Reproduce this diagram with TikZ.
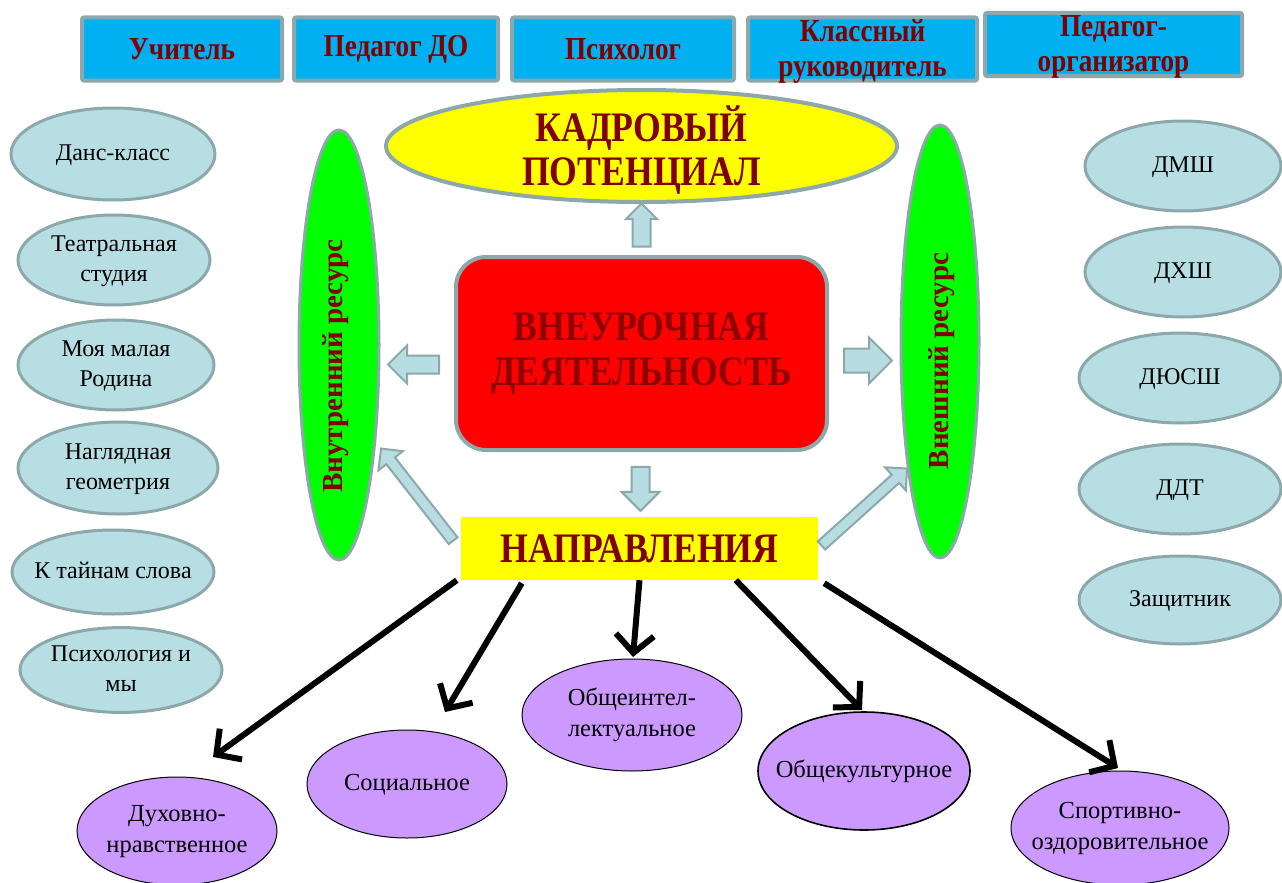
\documentclass[tikz,border=0pt]{standalone}
\usepackage{fontspec}
\setmainfont{Liberation Serif}
\newfontfamily\headfont{Liberation Serif}[FakeStretch=0.85]
\usetikzlibrary{shapes.geometric,shapes.arrows,arrows.meta,calc}
\definecolor{topblue}{HTML}{00B0F0}
\definecolor{frame}{HTML}{8CA8AA}
\definecolor{dred}{HTML}{800000}
\definecolor{vdred}{HTML}{8E0000}
\definecolor{lblue}{HTML}{B7DEE2}
\definecolor{lgreen}{HTML}{00FF00}
\definecolor{lilac}{HTML}{CC99FF}
\definecolor{yel}{HTML}{FFFF00}
\definecolor{abox}{HTML}{B7DDE3}
\newcommand\zw[1]{\makebox[0pt]{\begin{tabular}{@{}c@{}}#1\end{tabular}}}
\begin{document}
\begin{tikzpicture}[x=1pt,y=-1pt,
  topbox/.style={draw=frame, line width=4pt, fill=topblue, minimum height=63pt, inner sep=0pt, rounded corners=2pt},
  toptext/.style={text=dred, font=\headfont\bfseries\fontsize{32}{35}\selectfont, align=center, inner sep=0pt},
  club/.style={ellipse, draw=frame, line width=3pt, fill=lblue, inner sep=0pt, font=\fontsize{24}{30}\selectfont},
  dirn/.style={ellipse, draw=black, line width=1pt, fill=lilac, inner sep=0pt, font=\fontsize{24.5}{31}\selectfont},
  res/.style={ellipse, draw=frame, line width=3pt, fill=lgreen, inner sep=0pt},
  restext/.style={rotate=90, text=dred, font=\bfseries\fontsize{29}{30}\selectfont, inner sep=0pt},
  barrow/.style={single arrow, draw=frame, line width=2pt, fill=abox, inner xsep=0pt},
  link/.style={line width=6pt, -{Straight Barb[length=18pt,width=38pt,line width=6pt]}},
]
\useasboundingbox (0,0) rectangle (1282,883);

% top row
\node[topbox, toptext, minimum width=200pt] (t1) at (182,49) {Учитель};
\node[topbox, toptext, minimum width=204pt] (t2) at (396,49) {Педагог ДО};
\node[topbox, toptext, minimum width=222pt] (t3) at (623,49) {Психолог};
\node[topbox, minimum width=229pt] (t4) at (862.5,49) {};
\node[toptext] (t4t) at ($(t4)+(0,2)$) {Классный\\руководитель};
\node[topbox, minimum width=257pt] (t5) at (1113.5,44.5) {};
\node[toptext] (t5t) at ($(t5)+(0,2)$) {Педагог-\\организатор};

% central
\node[ellipse, draw=frame, line width=4pt, fill=yel, minimum width=511pt, minimum height=112pt, inner sep=0pt] (kp) at (641.5,146) {};
\node[text=dred, font=\headfont\bfseries\fontsize{42}{44}\selectfont, align=center, inner sep=0pt] (kpt) at ($(kp)+(0,4)$) {КАДРОВЫЙ\\ПОТЕНЦИАЛ};

\node[res, minimum width=80pt, minimum height=430pt] (ir) at (339,345) {};
\node[restext] (irt) at (336,366) {Внутренний ресурс};
\node[res, minimum width=78pt, minimum height=433pt] (er) at (940,341.5) {};
\node[restext] (ert) at (942,361) {Внешний ресурс};

\node[draw=frame, line width=4pt, fill=red, rounded corners=30pt, minimum width=371pt, minimum height=193pt, inner sep=0pt, text=vdred, font=\headfont\bfseries\fontsize{42}{45}\selectfont, align=center] (vd) at (641.5,353.5) {ВНЕУРОЧНАЯ\\ДЕЯТЕЛЬНОСТЬ};

\node[fill=yel, minimum width=357pt, minimum height=63pt, inner sep=0pt, text=dred, font=\headfont\bfseries\fontsize{42}{44}\selectfont] (nap) at (639.5,548.5) {НАПРАВЛЕНИЯ};

% left clubs
\node[club, minimum width=204pt, minimum height=92pt] (c1) at (113,154) {\zw{Данс-класс}};
\node[club, minimum width=192pt, minimum height=90pt] (c2) at (114,260) {\zw{Театральная\\студия}};
\node[club, minimum width=196pt, minimum height=90pt] (c3) at (116,365) {\zw{Моя малая\\Родина}};
\node[club, minimum width=200pt, minimum height=92pt] (c4) at (118,468) {\zw{Наглядная\\геометрия}};
\node[club, minimum width=202pt, minimum height=84pt] (c5) at (113,572) {\zw{К тайнам слова}};
\node[club, minimum width=202pt, minimum height=80pt] (c6) at (121,670) {\zw{Психология и\\мы}};

% right clubs
\node[club, minimum width=196pt, minimum height=90pt] (r1) at (1183,166) {\zw{ДМШ}};
\node[club, minimum width=196pt, minimum height=90pt] (r2) at (1183,272) {\zw{ДХШ}};
\node[club, minimum width=202pt, minimum height=90pt] (r3) at (1180,378) {\zw{ДЮСШ}};
\node[club, minimum width=202pt, minimum height=90pt] (r4) at (1180,489) {\zw{ДДТ}};
\node[club, minimum width=202pt, minimum height=88pt] (r5) at (1180,600) {\zw{Защитник}};

% directions
\node[dirn, minimum width=200pt, minimum height=108pt] (d1) at (177,831) {\zw{Духовно-\\нравственное}};
\node[dirn, minimum width=200pt, minimum height=108pt] (d2) at (407,784) {\zw{Социальное}};
\node[dirn, minimum width=220pt, minimum height=112pt] (d3) at (632,715) {\zw{Общеинтел-\\лектуальное}};
\node[dirn, line width=1.6pt, minimum width=212pt, minimum height=118pt] (d4) at (864,771) {\zw{Общекультурное}};
\node[dirn, minimum width=218pt, minimum height=114pt] (d5) at (1120,828) {\zw{Спортивно-\\оздоровительное}};

% block arrows
\node[barrow, rotate=90, minimum height=43pt, inner ysep=8pt, single arrow head extend=6.5pt] (au) at ($(vd.north)!0.5!(kp.south)$) {};
\node[barrow, rotate=180, minimum height=51pt, inner ysep=8pt, single arrow head extend=10pt] (al) at ($(vd.west)+(-36,11)$) {};
\node[barrow, minimum height=48pt, inner ysep=11pt, single arrow head extend=11pt] (ar) at ($(vd.east)+(33,7)$) {};
\node[barrow, rotate=-90, minimum height=44pt, inner ysep=8pt, single arrow head extend=10pt] (ad) at ($(vd.south)!0.5!(nap.north)$) {};
\node[barrow, rotate=128, minimum height=117pt, inner ysep=4.5pt, single arrow head extend=10pt] (adl) at ($(nap.north west)+(-42,-20)$) {};
\node[barrow, rotate=42, minimum height=115pt, inner ysep=4.5pt, single arrow head extend=10pt] (adr) at ($(nap.north east)+(44,-8)$) {};

% links
\draw[link] ($(nap.south west)+(-4,0)$) -- ($(d1.center)+(36,-74)$);
\draw[link] ($(nap.south west)+(61,3)$) -- ($(d2.center)+(38,-72)$);
\draw[link] (nap.south) -- ($(d3.center)+(1,-58)$);
\draw[link] ($(nap.south west)+(275,0)$) -- ($(d4.center)+(-2,-61)$);
\draw[link] ($(nap.south east)+(6,3)$) -- ($(d5.center)+(-2,-60)$);
\end{tikzpicture}
\end{document}
